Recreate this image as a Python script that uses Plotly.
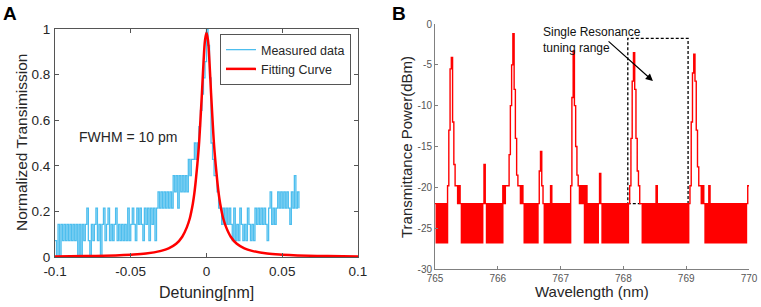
import numpy as np
import plotly.graph_objects as go

# ---------------- Panel A data ----------------
# measured data: detector counts (quantised, 14 counts = full scale), sampled every 1 pm from -0.100 nm
meas_x_start = -0.100
meas_x_step = 0.001
meas_counts = [
    1, 0, 2, 0, 2, 1, 2, 1, 2, 1,
    2, 1, 2, 1, 2, 0, 2, 0, 2, 1,
    2, 3, 1, 0, 2, 1, 2, 3, 1, 2,
    0, 2, 3, 1, 2, 3, 1, 2, 1, 2,
    3, 1, 2, 1, 2, 1, 2, 1, 3, 1,
    2, 3, 2, 1, 3, 2,
    3, 2, 1, 3, 2, 3, 1, 3, 2, 3, 1, 3,
    4, 3, 4, 3, 4, 3, 4, 3, 4, 3, 5, 4, 5, 3, 5,
    4, 5, 4, 5, 4,
    6, 5, 6, 6,
    7, 6, 7,
    8, 9, 10, 11, 12, 14, 13, 11, 7, 6, 5, 5, 4, 3, 3, 2,
    3, 2, 3, 2, 3, 2, 1, 3, 1, 2,
    1, 3, 2, 1, 2, 1, 3, 2, 1, 2,
    1, 3, 2, 3, 2, 3, 2, 3, 2, 1,
    3, 4, 2, 3, 2, 3, 4, 3, 4, 3,
    4, 3, 4, 3, 2, 4, 3, 5, 3, 4,
    3,
]
full_scale_counts = 14

fit_x = [-0.1, -0.08, -0.06, -0.05, -0.04, -0.03, -0.025, -0.02, -0.016, -0.013,
         -0.011, -0.01, -0.009, -0.008, -0.007, -0.006, -0.005, -0.004, -0.003,
         -0.002, -0.001, 0.0, 0.001, 0.002, 0.003, 0.004, 0.005, 0.006, 0.007,
         0.008, 0.009, 0.01, 0.011, 0.013, 0.016, 0.02, 0.025, 0.03, 0.04, 0.05,
         0.06, 0.08, 0.1]
fit_y = [0.0025, 0.004, 0.007, 0.010, 0.015, 0.027, 0.038, 0.058, 0.089, 0.13,
         0.17, 0.20, 0.235, 0.28, 0.34, 0.41, 0.49, 0.60, 0.72,
         0.85, 0.95, 0.985, 0.95, 0.85, 0.72, 0.60, 0.49, 0.41, 0.34,
         0.28, 0.235, 0.20, 0.17, 0.13, 0.089, 0.058, 0.038, 0.027, 0.015, 0.010,
         0.007, 0.004, 0.0025]

a_xtick_vals = [-0.1, -0.05, 0, 0.05, 0.1]
a_xtick_text = ["-0.1", "-0.05", "0", "0.05", "0.1"]
a_ytick_vals = [0, 0.2, 0.4, 0.6, 0.8, 1]
a_ytick_text = ["0", "0.2", "0.4", "0.6", "0.8", "1"]

# ---------------- Panel B data ----------------
wl_start = 765.0
wl_step = 0.02
F = -26.8   # lower noise level
N = -22.0   # upper noise level
S = -19.8   # shelf level
power = [
    N, F, N, F, N, F, N, F, N, F,                                  # 765.00-765.18
    S, -13, -5.5, -4.1, -12, -17.2, S, S, N, S, N,                 # peak 1
    F, N, F, N, F, N, F, N, F, N, F, N, F, N, F, N, F,              # 765.42-765.74
    N, -17.2, N,
    F, N, F, N, F, N, F, N, F, N, F, N, F,                          # 765.82-766.06
    S, N, S, S, S, -16, -10, -5, -1.2, -8, -14, -18.5, S, S, N, S,  # peak 2
    N, F, N, F, N, F, N, F, N, F, N, F, N,                          # 766.40-766.64
    -18, -15.6, S, N,
    F, N, F, N, F, S, F, N, F, N, F, N, F, N, F, N, F, N, F, N, F,  # 766.74-767.14
    S, -9, -3.3, -10, -15, -18.5, S, N, S, N, S, F, S, F, N,         # peak 3
    F, N, F, N, F, N, F, N,
    -18.3,
    N,
    F, N, F, N, F, N, F, N, F, N, F, N, F, N, F, N, F, N, F, N, F, N,  # 767.66-768.08
    S, -14, -7, -3.5, -8, -14, -18, S, N,                              # peak 4
    N, F, N, F, N, F, N, F, N, F, N, F, S, F, N, F, N, F, N, F,
    N, F, N, F, N, F, N, F, N, F, N, F, N, F, N, F, N, F, N,           # 768.28-769.04
    S, -12, -6, -3.7, -7, -13, -17.5, S, S, N, S,                      # peak 5
    N, F, N, F, S, F, N, F, N, F, N, F, N, F, N, F, N, F,
    N, F, N, F, N, F, N, F, N, F, N, F, N, F, N, F, N,                 # 769.28-769.96
    S, S,
]

b_xtick_vals = [765, 766, 767, 768, 769, 770]
b_xtick_text = ["765", "766", "767", "768", "769", "770"]
b_ytick_vals = [0, -5, -10, -15, -20, -25, -30]
b_ytick_text = ["0", "-5", "-10", "-15", "-20", "-25", "-30"]

box_x = [768.07, 769.03]
box_y = [-22.0, -1.75]

# ---------------- build figure ----------------
W, H = 761, 307
meas_x = np.round(meas_x_start + meas_x_step * np.arange(len(meas_counts)), 4)
meas_y = [c / full_scale_counts for c in meas_counts]
wl = np.round(wl_start + wl_step * np.arange(len(power)), 3)

FONT = "Liberation Sans, Arial, sans-serif"
fig = go.Figure()
fig.add_trace(go.Scatter(x=meas_x, y=meas_y, mode="lines", name="Measured data",
                         line=dict(color="#4DBEEE", width=1.3, shape="hv"),
                         xaxis="x", yaxis="y"))
fig.add_trace(go.Scatter(x=fit_x, y=fit_y, mode="lines", name="Fitting Curve",
                         line=dict(color="#FF0000", width=2.5, shape="spline"),
                         xaxis="x", yaxis="y"))
fig.add_trace(go.Scatter(x=wl, y=power, mode="lines", showlegend=False,
                         line=dict(color="#FF0000", width=1.4, shape="hv"),
                         xaxis="x2", yaxis="y2"))

axA = dict(showline=True, linecolor="#555555", linewidth=1, mirror="ticks",
           ticks="inside", ticklen=4, tickcolor="#555555", showgrid=False,
           zeroline=False, automargin=False,
           tickfont=dict(size=13.5, color="#262626", family=FONT))
axB = dict(showline=True, linecolor="#808080", linewidth=1, ticks="inside",
           ticklen=3, tickcolor="#808080", showgrid=False, zeroline=False,
           automargin=False, tickfont=dict(size=10, color="#555555", family=FONT))

fig.update_layout(
    width=W, height=H, margin=dict(l=0, r=0, t=0, b=0, autoexpand=False),
    paper_bgcolor="white", plot_bgcolor="white",
    font=dict(family=FONT, color="#262626"),
    xaxis=dict(axA, domain=[55 / W, 358 / W], range=[-0.1, 0.1], anchor="y",
               tickvals=a_xtick_vals, ticktext=a_xtick_text, ticklabelstandoff=2),
    yaxis=dict(axA, domain=[50 / H, 278 / H], range=[0, 1], anchor="x",
               tickvals=a_ytick_vals, ticktext=a_ytick_text, ticklabelstandoff=1),
    xaxis2=dict(axB, domain=[435 / W, 749 / W], range=[765, 770], anchor="y2",
                tickvals=b_xtick_vals, ticktext=b_xtick_text),
    yaxis2=dict(axB, domain=[38 / H, 283 / H], range=[-30, 0], anchor="x2",
                tickvals=b_ytick_vals, ticktext=b_ytick_text),
    legend=dict(x=351 / W, xanchor="right", y=1 - 34 / H, yanchor="top",
                bgcolor="white", bordercolor="#555555", borderwidth=1,
                font=dict(size=12.5, color="#262626"), tracegroupgap=0),
)

fig.add_shape(type="rect", xref="x2", yref="y2", x0=box_x[0], x1=box_x[1],
              y0=box_y[0], y1=box_y[1], layer="below",
              line=dict(color="black", width=1.3, dash="3px,2px"))

# axis titles and panel letters (paper coordinates, explicitly centred)
def paper_text(px, py, text, size, angle=0, color="#262626"):
    fig.add_annotation(x=px / W, y=1 - py / H, xref="paper", yref="paper",
                       xanchor="center", yanchor="middle", text=text,
                       textangle=angle, showarrow=False,
                       font=dict(size=size, color=color))

paper_text(206, 292, "Detuning[nm]", 16)
paper_text(21, 143, "Normalized Transimission", 15.5, angle=-90)
paper_text(592, 291, "Wavelength (nm)", 15)
paper_text(406, 147, "Transmittance Power(dBm)", 15, angle=-90)
paper_text(10, 13, "<b>A</b>", 19, color="black")
paper_text(399, 13, "<b>B</b>", 19, color="black")

fig.add_annotation(x=-0.0518, y=0.526, xref="x", yref="y", text="FWHM = 10 pm",
                   showarrow=False, font=dict(size=14, color="#262626"))
fig.add_annotation(x=766.69, y=-1.9, xref="x2", yref="y2", xanchor="left",
                   text="Single Resonance<br>tuning range", align="left",
                   showarrow=False, font=dict(size=12, color="#111111"))
fig.add_annotation(x=768.47, y=-6.98, xref="x2", yref="y2", ax=767.74, ay=-1.96,
                   axref="x2", ayref="y2", text="", showarrow=True, arrowhead=2,
                   arrowsize=1.2, arrowwidth=1.2, arrowcolor="black")

# the page body has a default 8px margin; remove it so the figure sits at the window origin
fig.write_html("out.html", config={"displayModeBar": False},
               post_script="document.body.style.margin='0px';")
